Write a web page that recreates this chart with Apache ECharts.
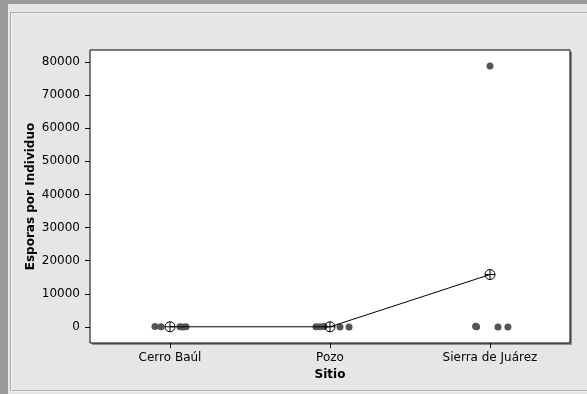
<!DOCTYPE html>
<html>
<head>
<meta charset="utf-8">
<script src="https://cdn.jsdelivr.net/npm/echarts@6/dist/echarts.min.js"></script>
<style>
  html, body { margin: 0; padding: 0; background: #e6e6e6; }
  #chart { width: 587px; height: 394px; }
</style>
</head>
<body>
<div id="chart"></div>
<script>
// Sites sampled
const sites = ['Cerro Baúl', 'Pozo', 'Sierra de Juárez'];

// Spores per individual, one value per sampled individual
const cerroBaul = [150, 80, 40, 20, 60];
const pozo = [90, 60, 120, 30, 0];
const sierraJuarez = [250, 100, 0, 0, 78800];

// Horizontal jitter of each individual within its site (category units)
const cerroBaulJitter = [-0.094, -0.056, 0.0625, 0.081, 0.1];
const pozoJitter = [-0.0875, -0.0625, -0.0375, 0.0625, 0.119];
const sierraJuarezJitter = [-0.09, -0.084, 0.05, 0.112, 0];

// Y axis tick values
const yTicks = [0, 10000, 20000, 30000, 40000, 50000, 60000, 70000, 80000];

const groups = [
  { values: cerroBaul, jitter: cerroBaulJitter },
  { values: pozo, jitter: pozoJitter },
  { values: sierraJuarez, jitter: sierraJuarezJitter }
];

const points = [];
groups.forEach((g, i) => {
  g.values.forEach((v, k) => points.push([i + g.jitter[k], v]));
});
const means = groups.map(g => g.values.reduce((a, b) => a + b, 0) / g.values.length);

const FONT = 'DejaVu Sans';
const meanSymbol = 'path://M0,50 A50,50 0 1,1 100,50 A50,50 0 1,1 0,50 Z M0,50 L100,50 M50,0 L50,100';

const chart = echarts.init(document.getElementById('chart'), null, { renderer: 'canvas' });

chart.setOption({
  backgroundColor: '#e6e6e6',
  animation: false,
  graphic: [
    { type: 'rect', z: -10, shape: { x: 0, y: 0, width: 8, height: 394 }, style: { fill: '#9b9b9b' } },
    { type: 'rect', z: -10, shape: { x: 0, y: 0, width: 587, height: 4 }, style: { fill: '#9b9b9b' } },
    { type: 'rect', z: -10, shape: { x: 10.5, y: 12.5, width: 600, height: 378 }, style: { fill: 'none', stroke: '#a9a9a9', lineWidth: 1 } },
    { type: 'rect', z: -10, shape: { x: 11.5, y: 13.5, width: 600, height: 378 }, style: { fill: 'none', stroke: '#f4f4f4', lineWidth: 1 } },
    // soft shade along the right and bottom edges of the plot box
    { type: 'rect', z: -5, shape: { x: 92, y: 52, width: 480, height: 293 }, style: { fill: '#8c8c8c' } }
  ],
  grid: {
    left: 90, top: 50, width: 480, height: 293,
    show: true,
    backgroundColor: '#ffffff',
    borderColor: '#000000',
    borderWidth: 1
  },
  xAxis: [
    {
      type: 'category',
      data: sites,
      boundaryGap: true,
      name: 'Sitio',
      nameLocation: 'middle',
      nameGap: 26,
      nameMoveOverlap: false,
      nameTextStyle: { fontFamily: FONT, fontSize: 12, fontWeight: 'bold', color: '#000' },
      axisLine: { show: false, onZero: false },
      axisTick: { show: true, alignWithLabel: true, length: 5, lineStyle: { color: '#000' } },
      axisLabel: { fontFamily: FONT, fontSize: 12, color: '#000', margin: 9 },
      splitLine: { show: false }
    },
    {
      type: 'value',
      min: -0.5,
      max: 2.5,
      show: false,
      axisLine: { onZero: false }
    }
  ],
  yAxis: {
    type: 'value',
    min: -4830,
    max: 83620,
    name: 'Esporas por Individuo',
    nameLocation: 'middle',
    nameGap: 53,
    nameMoveOverlap: false,
    nameTextStyle: { fontFamily: FONT, fontSize: 12, fontWeight: 'bold', color: '#000' },
    axisLine: { show: false, onZero: false },
    axisTick: { show: true, length: 5, customValues: yTicks, lineStyle: { color: '#000' } },
    axisLabel: {
      fontFamily: FONT, fontSize: 12, color: '#000', margin: 10,
      customValues: yTicks,
      formatter: v => String(v)
    },
    splitLine: { show: false }
  },
  series: [
    {
      type: 'line',
      xAxisIndex: 0,
      data: means,
      symbol: meanSymbol,
      symbolSize: 10,
      lineStyle: { color: '#000', width: 1 },
      itemStyle: { color: 'rgba(255,255,255,0)', borderColor: '#000', borderWidth: 1 },
      z: 3
    },
    {
      type: 'scatter',
      xAxisIndex: 1,
      data: points,
      symbol: 'circle',
      symbolSize: 7,
      itemStyle: { color: '#545454', opacity: 1 },
      z: 2
    }
  ]
});
</script>
</body>
</html>
